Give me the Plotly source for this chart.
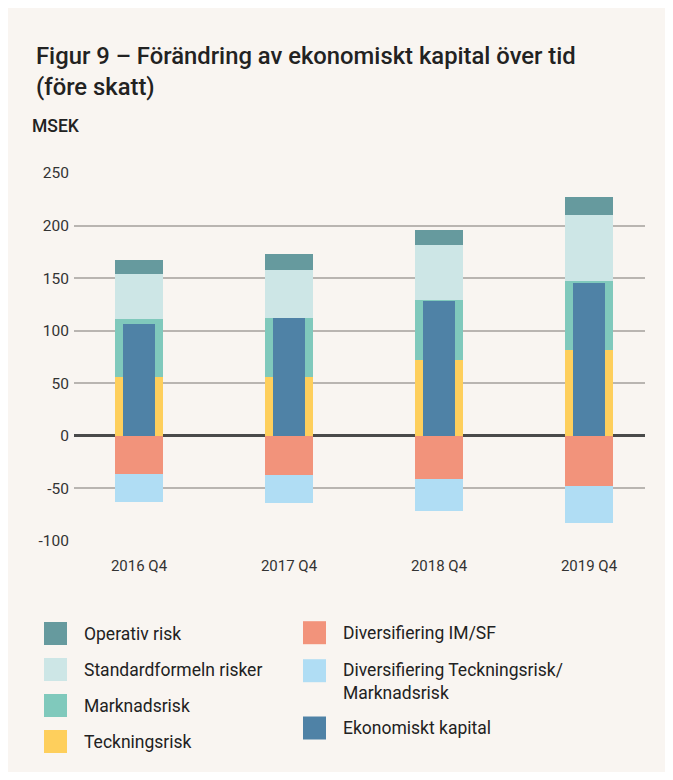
import plotly.graph_objects as go

# ---------------- data ----------------
categories = ["2016 Q4", "2017 Q4", "2018 Q4", "2019 Q4"]
teckningsrisk = [56, 56, 72, 82]
marknadsrisk = [55, 56, 57, 65]
standardformeln = [43, 46, 53, 63]
operativ_risk = [13, 15, 14, 17]
diversifiering_im_sf = [-36, -37, -41, -48]
diversifiering_tm = [-27, -27, -30, -35]
ekonomiskt_kapital = [106, 112, 128, 145]
y_ticks = [-100, -50, 0, 50, 100, 150, 200, 250]
y_tick_labels = ["-100", "-50", "0", "50", "100", "150", "200", "250"]

# ---------------- styling ----------------
C_OPER = "#669a9e"
C_STD = "#cde6e6"
C_MARK = "#80c9bc"
C_TECK = "#fecf5c"
C_DIM = "#f2937b"
C_DTM = "#b0ddf4"
C_EKON = "#4f82a6"
BG = "#f9f5f1"
TXT = "#222222"
FONT = "Roboto, 'Noto Sans', sans-serif"

OFF = 8  # page body margin
W, H = 673 - OFF, 780 - 2 * OFF
ML, MT = 74 - OFF, 173 - OFF
MR = W - (645 - OFF)
MB = H - (541 - OFF)
PW = W - ML - MR
PH = H - MT - MB


def px_x(px):
    return (px - OFF - ML) / PW


def px_y(py):
    return (H - MB - (py - OFF)) / PH


fig = go.Figure()

stack = [
    ("Teckningsrisk", teckningsrisk, C_TECK),
    ("Marknadsrisk", marknadsrisk, C_MARK),
    ("Standardformeln risker", standardformeln, C_STD),
    ("Operativ risk", operativ_risk, C_OPER),
    ("Diversifiering IM/SF", diversifiering_im_sf, C_DIM),
    ("Diversifiering Teckningsrisk/Marknadsrisk", diversifiering_tm, C_DTM),
]
for name, vals, col in stack:
    fig.add_trace(go.Bar(x=categories, y=vals, name=name, width=0.32,
                         marker=dict(color=col, line=dict(width=0)),
                         showlegend=False))

fig.add_trace(go.Bar(x=categories, y=ekonomiskt_kapital, name="Ekonomiskt kapital",
                     width=0.207, marker=dict(color=C_EKON, line=dict(width=0)),
                     xaxis="x2", yaxis="y2", showlegend=False))

XR = [-(139 - 74) / 150, 3 + (645 - 589) / 150]
YR = [-100, 250]

fig.update_layout(
    width=W, height=H,
    margin=dict(l=ML, r=MR, t=MT, b=MB),
    paper_bgcolor=BG,
    plot_bgcolor="rgba(0,0,0,0)",
    barmode="relative",
    bargap=0,
    font=dict(family=FONT, color=TXT),
    xaxis=dict(type="category", range=XR, showgrid=False, zeroline=False,
               showline=False, ticks="", tickfont=dict(size=15, color="#333333"),
               ticklabelstandoff=14),
    yaxis=dict(range=YR, tickvals=y_ticks, ticktext=y_tick_labels, showgrid=True,
               gridcolor="#b9b5b1", gridwidth=1.5, zeroline=True, zerolinecolor="#4a4a4a",
               zerolinewidth=2.5, showline=False, ticks="",
               tickfont=dict(size=15.5, color="#333333"), ticklabelstandoff=4),
    xaxis2=dict(type="category", range=XR, overlaying="x", visible=False),
    yaxis2=dict(range=YR, overlaying="y", visible=False),
)

shapes = []
annotations = [
    dict(text="Figur 9 – Förändring av ekonomiskt kapital över tid", x=px_x(34), y=px_y(56),
         xref="paper", yref="paper", xanchor="left", yanchor="middle", showarrow=False,
         font=dict(size=23.8, color=TXT, weight=500)),
    dict(text="(före skatt)", x=px_x(34), y=px_y(87),
         xref="paper", yref="paper", xanchor="left", yanchor="middle", showarrow=False,
         font=dict(size=23.8, color=TXT, weight=500)),
    dict(text="MSEK", x=px_x(30), y=px_y(126),
         xref="paper", yref="paper", xanchor="left", yanchor="middle", showarrow=False,
         font=dict(size=17.5, color=TXT, weight=500)),
]

# legend (two columns)
legend_left = [("Operativ risk", C_OPER, 633.5, 633.5),
               ("Standardformeln risker", C_STD, 669.5, 669.5),
               ("Marknadsrisk", C_MARK, 705.5, 705.5),
               ("Teckningsrisk", C_TECK, 741.5, 741.5)]
legend_right = [("Diversifiering IM/SF", C_DIM, 632.7, 632.7),
                ("Diversifiering Teckningsrisk/<br>Marknadsrisk", C_DTM, 670.7, 681),
                ("Ekonomiskt kapital", C_EKON, 728, 728)]
for items, sx, tx in [(legend_left, 44, 81.5), (legend_right, 303, 341)]:
    for label, col, sy, ty in items:
        shapes.append(dict(type="rect", xref="paper", yref="paper",
                           x0=px_x(sx), x1=px_x(sx + 23), y0=px_y(sy + 11.5), y1=px_y(sy - 11.5),
                           fillcolor=col, line=dict(width=0)))
        annotations.append(dict(text=label, x=px_x(tx), y=px_y(ty), xref="paper", yref="paper",
                                xanchor="left", yanchor="middle", align="left", showarrow=False,
                                font=dict(size=17.5, color=TXT)))

fig.update_layout(shapes=shapes, annotations=annotations)
fig.write_html("out.html")
